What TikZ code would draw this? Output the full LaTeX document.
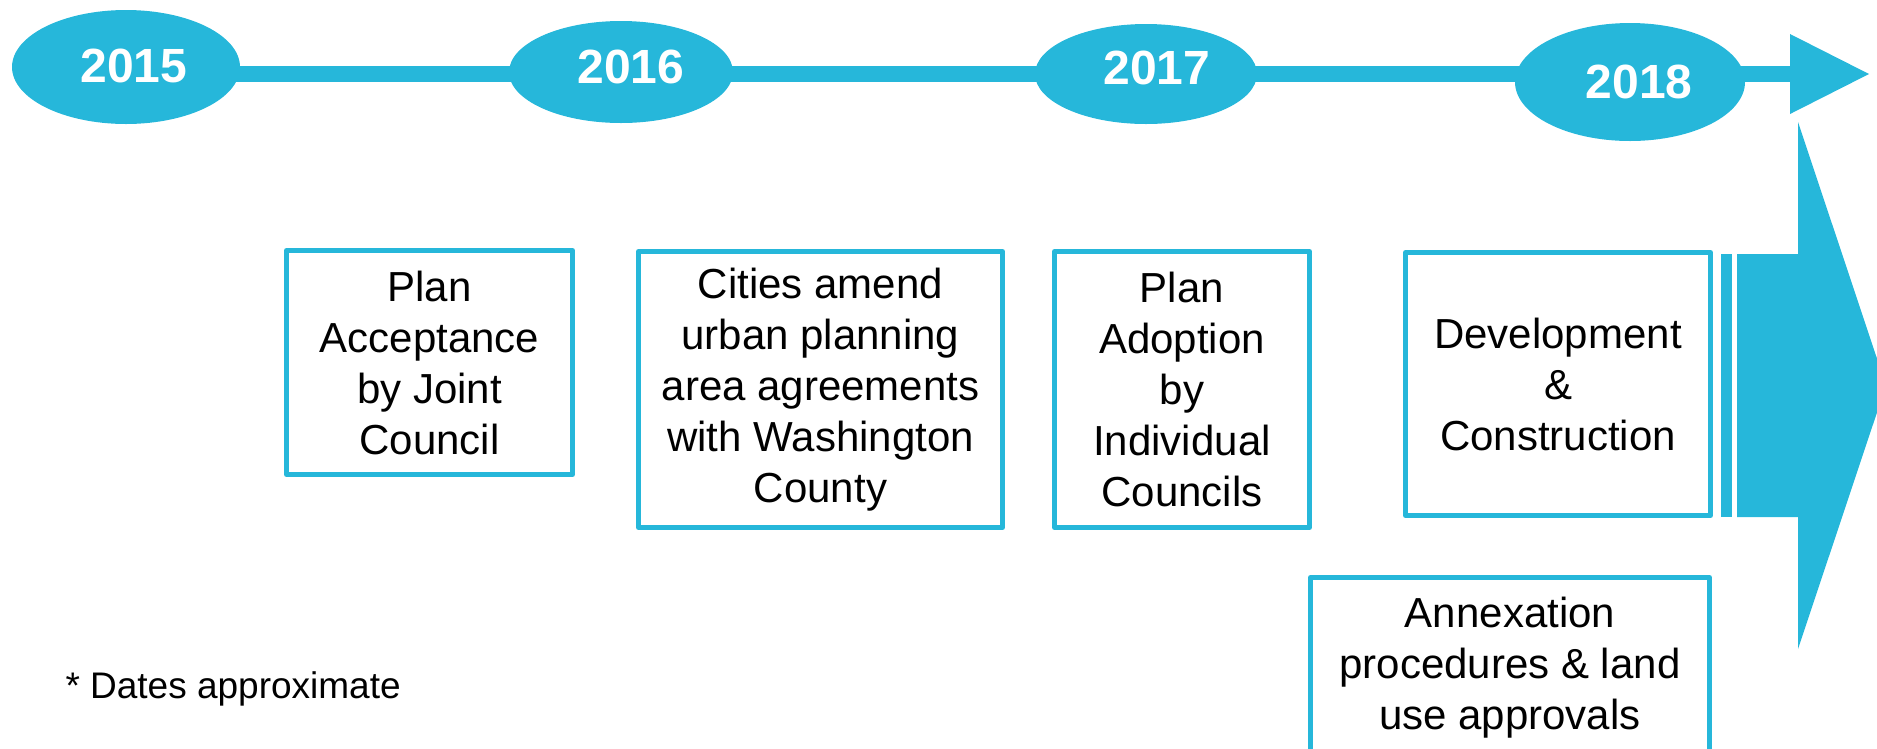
\documentclass[tikz,border=0pt]{standalone}
\usepackage{fontspec}
\setmainfont{Liberation Sans}
\usetikzlibrary{shapes.geometric}
\definecolor{cy}{RGB}{38,183,218}
\begin{document}
\begin{tikzpicture}[x=1pt,y=-1pt,
  year/.style={ellipse,fill=cy,inner sep=0pt,text=white,font=\fontsize{48}{56}\selectfont\bfseries},
  yeartext/.style={font=\fontsize{48}{56}\selectfont\bfseries,text=white},
  stepbox/.style={draw=cy,line width=5pt,line join=round,fill=white,inner sep=0pt,align=center,font=\fontsize{42}{51}\selectfont},
  tl/.style={draw=cy,line width=16pt}]
\useasboundingbox (0,0) rectangle (1877,748);
\clip (0,0) rectangle (1877,748);
% timeline
\coordinate (tlstart) at (200,74);
\coordinate (tlend) at (1795,74);
\draw[tl] (tlstart) -- (tlend);
\fill[cy] (1790,34) -- (1869,74) -- (1790,114) -- cycle;
% ellipses
\node[year,minimum width=228pt,minimum height=114pt] (y15) at (126,67) {};
\node[yeartext] (t15) at (134,66) {2015};
\node[year,minimum width=224pt,minimum height=102pt] (y16) at (621,72) {};
\node[yeartext] (t16) at (631,67) {2016};
\node[year,minimum width=222pt,minimum height=100pt] (y17) at (1146,74) {};
\node[yeartext] (t17) at (1157,68) {2017};
\node[year,minimum width=230pt,minimum height=118pt] (y18) at (1630,82) {};
\node[yeartext] (t18) at (1639,82) {2018};
% big striped arrow
\fill[cy] (1721,254) rectangle (1732,517);
\fill[cy] (1737,254) -- (1798,254) -- (1798,122) -- (1886,385.5) -- (1798,649) -- (1798,517) -- (1737,517) -- cycle;
% boxes
\node[stepbox,minimum width=286pt,minimum height=224pt] (b1) at (429.5,362.5) {Plan\\Acceptance\\by Joint\\Council};
\node[stepbox,minimum width=364pt,minimum height=276pt] (b2) at (820.5,389.5) {Cities amend\\urban planning\\area agreements\\with Washington\\County};
\node[stepbox,minimum width=255pt,minimum height=276pt] (b3) at (1182,389.5) {Plan\\Adoption\\by\\Individual\\Councils};
\node[stepbox,minimum width=305pt,minimum height=263pt] (b4) at (1558,384) {Development\\\&\\Construction};
\node[stepbox,minimum width=399pt,minimum height=180pt] (b5) at (1510,667.5) {Annexation\\procedures \& land\\use approvals};
% note
\node[anchor=west,font=\fontsize{37}{44}\selectfont] (note) at (62,689) {* Dates approximate};
\end{tikzpicture}
\end{document}
